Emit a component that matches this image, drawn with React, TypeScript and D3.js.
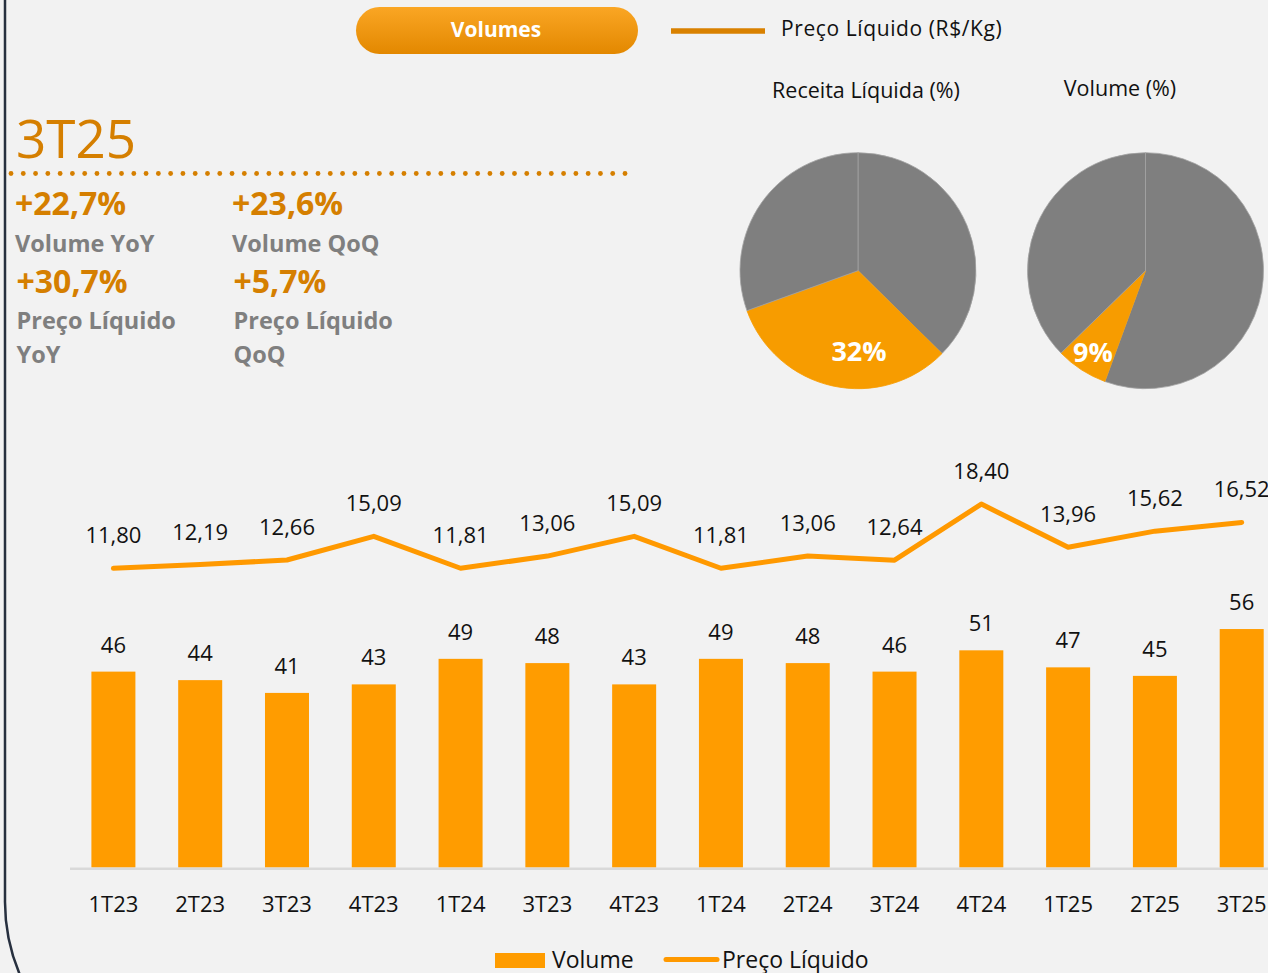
import React from 'react';
import * as d3 from 'd3';

// ---------- data ----------
const categories = ['1T23', '2T23', '3T23', '4T23', '1T24', '3T23', '4T23', '1T24', '2T24', '3T24', '4T24', '1T25', '2T25', '3T25'];
const volumeValues = [46, 44, 41, 43, 49, 48, 43, 49, 48, 46, 51, 47, 45, 56];
const priceValues = [11.8, 12.19, 12.66, 15.09, 11.81, 13.06, 15.09, 11.81, 13.06, 12.64, 18.4, 13.96, 15.62, 16.52];
const receitaShares = [37.4, 32.1, 30.5];
const volumeShares = [55.6, 7.1, 37.3];
const receitaLabel = '32%';
const volumeLabel = '9%';
const statValues = ['+22,7%', '+23,6%', '+30,7%', '+5,7%'];
const statLabels = [['Volume YoY'], ['Volume QoQ'], ['Preço Líquido', 'YoY'], ['Preço Líquido', 'QoQ']];
const periodTitle = '3T25';

// ---------- style ----------
const W = 1268;
const H = 973;
const FONT = "'Open Sans', 'Noto Sans', sans-serif";
const BG = '#f2f2f2';
const BAR = '#ff9c00';
const LINE = '#ff9900';
const PIE_ORANGE = '#f79c00';
const GREY = '#7f7f7f';
const DARK_ORANGE = '#d57f00';
const STAT_GREY = '#7f7f7f';

const fmtPrice = (v: number) => d3.format('.2f')(v).replace('.', ',');

export default function App() {
  const idx = categories.map((_, i) => i);
  const x = d3.scalePoint<number>().domain(idx).range([113.4, 1241.7]);
  const step = x.step();
  const barW = step * 0.507;
  const yBar = d3.scaleLinear().domain([0, 60]).range([867.5, 612]);
  const yLine = d3.scaleLinear().domain([0, 20]).range([683.3, 488.5]);

  const linePath = d3
    .line<number>()
    .x((_, i) => x(i) as number)
    .y((d) => yLine(d))(priceValues) as string;

  const pieGen = d3.pie<number>().sort(null).value((d) => d);
  const R = 118;
  const arc = d3.arc<d3.PieArcDatum<number>>().innerRadius(0).outerRadius(R);
  const pies = [
    { cx: 858, cy: 270.7, shares: receitaShares, label: receitaLabel, title: 'Receita Líquida (%)', tx: 866, ty: 97.5, lx: 859, ly: 361 },
    { cx: 1145.5, cy: 270.7, shares: volumeShares, label: volumeLabel, title: 'Volume (%)', tx: 1120, ty: 95.5, lx: 1093, ly: 361.5 },
  ];

  const dots = d3.range(11, 627, 12.28);

  const statCols = [15, 232];

  return (
    <svg width={W} height={H} style={{ position: 'absolute', left: 0, top: 0, display: 'block' }} fontFamily={FONT}>
      <defs>
        <linearGradient id="pillGrad" x1="0" y1="0" x2="0" y2="1">
          <stop offset="0" stopColor="#faa624" />
          <stop offset="1" stopColor="#e38800" />
        </linearGradient>
      </defs>
      <rect x={0} y={0} width={W} height={H} fill={BG} />

      {/* left frame */}
      <path d="M5,-5 L5,900 A185,185 0 0,0 20,975" fill="none" stroke="#27303f" strokeWidth={2.5} />

      {/* pill */}
      <rect x={356} y={7} width={282} height={47} rx={23.5} fill="url(#pillGrad)" />
      <text x={496} y={37} textAnchor="middle" fill="#ffffff" fontWeight={700} fontSize={21}>
        Volumes
      </text>

      {/* top legend */}
      <line x1={671} x2={765} y1={31} y2={31} stroke="#d98100" strokeWidth={5.5} />
      <text x={781} y={35.5} fontSize={21} letterSpacing={0.6} fill="#111">
        Preço Líquido (R$/Kg)
      </text>

      {/* period title */}
      <text x={16} y={158} fontSize={53} fill={DARK_ORANGE}>
        {periodTitle}
      </text>
      {dots.map((d, i) => (
        <circle key={i} cx={d} cy={173.5} r={2.4} fill={DARK_ORANGE} />
      ))}

      {/* stats */}
      {statValues.map((s, i) => {
        const col = i % 2;
        const row = Math.floor(i / 2);
        const sx = statCols[col] + (row === 1 ? 1.5 : 0);
        const baseY = row === 0 ? 215 : 293;
        return (
          <g key={i}>
            <text x={sx} y={baseY} fontSize={32} fontWeight={700} fill={DARK_ORANGE}>
              {s}
            </text>
            {statLabels[i].map((l, j) => (
              <text key={j} x={sx} y={baseY + (row === 0 ? 37 : 36) + j * 34} fontSize={23.5} fontWeight={700} fill={STAT_GREY}>
                {l}
              </text>
            ))}
          </g>
        );
      })}

      {/* pies */}
      {pies.map((p, pi) => (
        <g key={pi}>
          <text x={p.tx} y={p.ty} textAnchor="middle" fontSize={21.5} fill="#111">
            {p.title}
          </text>
          <g transform={`translate(${p.cx},${p.cy})`}>
            {pieGen(p.shares).map((a, i) => (
              <path key={i} d={arc(a) as string} fill={i === 1 ? PIE_ORANGE : GREY} stroke={i === 1 ? PIE_ORANGE : '#a3a3a3'} strokeWidth={0.8} />
            ))}
          </g>
          <text x={p.lx} y={p.ly} textAnchor="middle" fontSize={27} fontWeight={700} fill="#ffffff">
            {p.label}
          </text>
        </g>
      ))}

      {/* bars */}
      {volumeValues.map((v, i) => (
        <g key={i}>
          <rect x={(x(i) as number) - barW / 2} y={yBar(v)} width={barW} height={yBar(0) - yBar(v)} fill={BAR} />
          <text x={x(i)} y={yBar(v) - 19} textAnchor="middle" fontSize={22} fill="#111">
            {v}
          </text>
        </g>
      ))}

      {/* axis */}
      <line x1={70} x2={W} y1={868.7} y2={868.7} stroke="#d9d9d9" strokeWidth={2.5} />
      {categories.map((c, i) => (
        <text key={i} x={x(i)} y={912} textAnchor="middle" fontSize={22} fill="#111">
          {c}
        </text>
      ))}

      {/* price line */}
      <path d={linePath} fill="none" stroke={LINE} strokeWidth={5} strokeLinecap="round" strokeLinejoin="round" />
      {priceValues.map((v, i) => (
        <text key={i} x={x(i)} y={yLine(v) - 25} textAnchor="middle" fontSize={22} fill="#111">
          {fmtPrice(v)}
        </text>
      ))}

      {/* bottom legend */}
      <rect x={495} y={953} width={50} height={15} fill={BAR} />
      <text x={552} y={968} fontSize={23} fill="#111">
        Volume
      </text>
      <line x1={666} x2={717} y1={959.5} y2={959.5} stroke={LINE} strokeWidth={5} strokeLinecap="round" />
      <text x={722} y={968} fontSize={23} fill="#111">
        Preço Líquido
      </text>
    </svg>
  );
}
